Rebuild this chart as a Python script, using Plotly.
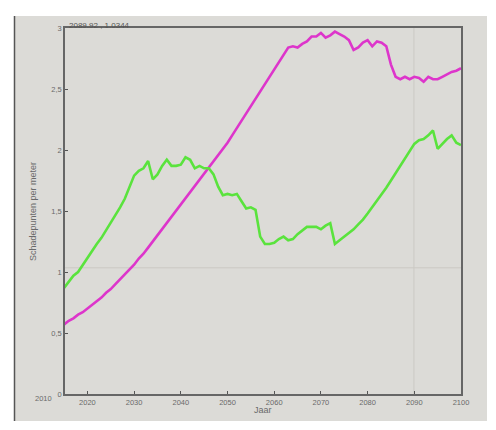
import plotly.graph_objects as go

years = list(range(2015, 2101))

magenta_vals = [
    0.57, 0.60, 0.62, 0.65, 0.67, 0.70, 0.73, 0.76, 0.79, 0.83,
    0.86, 0.90, 0.94, 0.98, 1.02, 1.06, 1.11, 1.15, 1.20, 1.25,
    1.30, 1.35, 1.40, 1.45, 1.50, 1.55, 1.60, 1.65, 1.70, 1.75,
    1.80, 1.85, 1.90, 1.95, 2.01, 2.06, 2.12, 2.18, 2.24, 2.30,
    2.36, 2.42, 2.48, 2.55, 2.61, 2.67, 2.73, 2.79, 2.84, 2.85,
    2.84, 2.87, 2.89, 2.93, 2.93, 2.96, 2.92, 2.94, 2.97, 2.95,
    2.93, 2.90, 2.82, 2.84, 2.88, 2.90, 2.85, 2.89, 2.88, 2.85,
    2.70, 2.60, 2.58, 2.60, 2.58, 2.60, 2.59, 2.56, 2.60, 2.58,
    2.58, 2.60, 2.62, 2.64, 2.65, 2.67,
]

green_vals = [
    0.87, 0.92, 0.97, 1.00, 1.06, 1.12, 1.17, 1.23, 1.28, 1.34,
    1.40, 1.46, 1.53, 1.60, 1.69, 1.79, 1.83, 1.85, 1.91, 1.76,
    1.80, 1.87, 1.92, 1.87, 1.87, 1.88, 1.94, 1.92, 1.85, 1.87,
    1.85, 1.85, 1.80, 1.70, 1.63, 1.64, 1.63, 1.64, 1.58, 1.52,
    1.53, 1.51, 1.29, 1.23, 1.23, 1.24, 1.27, 1.29, 1.26, 1.27,
    1.31, 1.34, 1.37, 1.37, 1.37, 1.35, 1.38, 1.40, 1.23, 1.26,
    1.29, 1.32, 1.35, 1.39, 1.43, 1.48, 1.53, 1.58, 1.63, 1.69,
    1.75, 1.81, 1.87, 1.93, 1.99, 2.05, 2.08, 2.09, 2.12, 2.16,
    2.01, 2.05, 2.09, 2.12, 2.06, 2.04,
]

x_ticks = [2020, 2030, 2040, 2050, 2060, 2070, 2080, 2090, 2100]
y_ticks = [0, 0.5, 1, 1.5, 2, 2.5, 3]
y_ticktext = ["0", "0,5", "1", "1,5", "2", "2,5", "3"]

cursor_x = 2089.92
cursor_y = 1.0344

BG = "#dcdbd7"
FONT = "Liberation Sans, Arial, sans-serif"
TXT = "#6a6a6a"

fig = go.Figure()
fig.add_trace(go.Scatter(x=years, y=magenta_vals, mode="lines",
                         line=dict(color="#dd35cb", width=2.6), hoverinfo="skip"))
fig.add_trace(go.Scatter(x=years, y=green_vals, mode="lines",
                         line=dict(color="#5ae33d", width=2.6), hoverinfo="skip"))

W, H = 496, 430
ml, mr, mt, mb = 65, 35, 28, 36
pw, ph = W - ml - mr, H - mt - mb

def px2paper_x(px):
    return (px - ml) / pw

def px2paper_y(py):
    return (H - mb - py) / ph

shapes = [
    dict(type="rect", xref="paper", yref="paper",
         x0=px2paper_x(14), x1=px2paper_x(487), y0=px2paper_y(421), y1=px2paper_y(16),
         fillcolor=BG, line=dict(width=0), layer="below"),
    dict(type="line", xref="paper", yref="paper",
         x0=px2paper_x(14.5), x1=px2paper_x(14.5), y0=px2paper_y(421), y1=px2paper_y(16),
         line=dict(color="#555555", width=1.5), layer="below"),
    dict(type="line", xref="x", yref="paper", x0=cursor_x, x1=cursor_x, y0=0, y1=1,
         line=dict(color="#cbc9c4", width=1), layer="below"),
    dict(type="line", xref="paper", yref="y", x0=0, x1=1, y0=cursor_y, y1=cursor_y,
         line=dict(color="#cbc9c4", width=1), layer="below"),
]

annotations = [
    dict(text=f"{cursor_x:.2f} , {cursor_y:.4f}", xref="paper", yref="paper",
         x=px2paper_x(67), y=1, xanchor="left", yanchor="middle", yshift=3,
         showarrow=False, font=dict(family=FONT, size=8, color="#555555")),
    dict(text="2010", xref="paper", yref="paper",
         x=px2paper_x(43), y=px2paper_y(399), xanchor="center", yanchor="middle",
         showarrow=False, font=dict(family=FONT, size=7.5, color=TXT)),
    dict(text="Jaar", xref="paper", yref="paper",
         x=0.5, y=px2paper_y(409.5), xanchor="center", yanchor="middle",
         showarrow=False, font=dict(family=FONT, size=9, color=TXT)),
    dict(text="Schadepunten per meter", xref="paper", yref="paper",
         x=px2paper_x(33), y=px2paper_y(212), xanchor="center", yanchor="middle",
         textangle=-90, showarrow=False, font=dict(family=FONT, size=9, color=TXT)),
]

fig.update_layout(
    width=W, height=H,
    margin=dict(l=ml, r=mr, t=mt, b=mb, pad=0),
    paper_bgcolor="white",
    plot_bgcolor=BG,
    showlegend=False,
    separators=",.",
    shapes=shapes,
    annotations=annotations,
    font=dict(family=FONT, size=8, color=TXT),
)
fig.update_xaxes(range=[2015.2, 2100], tickvals=x_ticks, ticks="inside", ticklen=3,
                 tickcolor="#555555", showgrid=False, zeroline=False,
                 showline=True, linecolor="#666666", linewidth=1.5, mirror=True,
                 tickfont=dict(family=FONT, size=7.5, color=TXT))
fig.update_yaxes(range=[0, 3], tickvals=y_ticks, ticktext=y_ticktext, ticks="inside",
                 ticklen=3, tickcolor="#555555", showgrid=False, zeroline=False,
                 showline=True, linecolor="#666666", linewidth=1.5, mirror=True,
                 tickfont=dict(family=FONT, size=7.5, color=TXT))

fig.write_html("out.html",
               config={"displayModeBar": False},
               post_script="document.body.style.margin='0';document.body.style.overflow='hidden';")
